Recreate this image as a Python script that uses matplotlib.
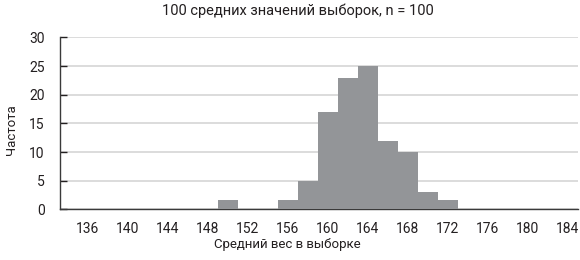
import matplotlib
matplotlib.use("Agg")
import matplotlib.pyplot as plt

plt.rcParams['font.family'] = ['Roboto', 'DejaVu Sans']

# histogram of sample means (bin centres, width 2)
bin_centers = [150, 156, 158, 160, 162, 164, 166, 168, 170, 172]
counts = [1.6, 1.6, 5, 17, 23, 25, 12, 10, 3, 1.6]
x_ticks = list(range(136, 185, 4))
y_ticks = [0, 5, 10, 15, 20, 25, 30]

fig = plt.figure(figsize=(5.8, 2.6), dpi=100)
ax = fig.add_axes([0.1034, 0.195, 0.893, 0.661])

ax.bar(bin_centers, counts, width=2, color='#939598', linewidth=0, zorder=3)

ax.set_xlim(133.2, 185.0)
ax.set_ylim(0, 30)
ax.set_xticks(x_ticks)
ax.set_yticks(y_ticks)
ax.tick_params(axis='x', length=0, pad=9, labelsize=10, colors='#231f20')
ax.tick_params(axis='y', direction='in', length=5, width=1, pad=11,
               labelsize=10, colors='#231f20')
ax.yaxis.grid(True, color='#d9d9d9', linewidth=1.3, zorder=0)
ax.set_axisbelow(True)

for s in ['top', 'right']:
    ax.spines[s].set_visible(False)
ax.spines['left'].set_color('#3a3a3a')
ax.spines['bottom'].set_color('#3a3a3a')
ax.spines['left'].set_linewidth(1)
ax.spines['bottom'].set_linewidth(1)

fig.text(0.514, 0.957, '100 средних значений выборок, n = 100',
         ha='center', va='center', fontsize=10.5, color='#231f20')
fig.text(0.495, 0.058, 'Средний вес в выборке',
         ha='center', va='center', fontsize=9.5, color='#231f20')
fig.text(0.02, 0.50, 'Частота', rotation=90,
         ha='center', va='center', fontsize=9.5, color='#231f20')

fig.savefig('out.png', dpi=100)
plt.close(fig)
